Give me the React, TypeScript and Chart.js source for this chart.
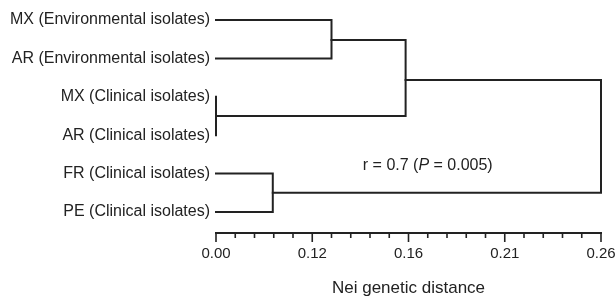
import React, { useEffect, useRef } from "react";
import { Chart, registerables } from "chart.js";

Chart.register(...registerables);

// Leaves (top to bottom) and their row positions
const leafLabels = [
  "MX (Environmental isolates)",
  "AR (Environmental isolates)",
  "MX (Clinical isolates)",
  "AR (Clinical isolates)",
  "FR (Clinical isolates)",
  "PE (Clinical isolates)",
];
const leafRows = [0, 1, 2, 3, 4, 5];

// Axis tick labels (evenly spaced major ticks as printed on the figure)
const tickLabels = ["0.00", "0.12", "0.16", "0.21", "0.26"];

// Clusters: children ("L#" leaf, "N#" cluster), join position on the distance axis, row
const clusterNames = ["N0", "N1", "N2", "N3", "N4"];
const clusterLeft = ["L0", "L2", "N0", "L4", "N2"];
const clusterRight = ["L1", "L3", "N1", "L5", "N3"];
const clusterHeight = [1.2, 0, 1.97, 0.59, 4.0];
const clusterRow = [0.52, 2.5, 1.56, 4.5, 3.0];

const annotationText = ["r = 0.7 (", "P", " = 0.005)"];
const annotationPos = { x: 2.2, y: 3.78 };

const INK = "#222222";
const FONT = "'Liberation Sans', Arial, Helvetica, sans-serif";

function nodeOf(id: string) {
  if (id[0] === "L") {
    const i = Number(id.slice(1));
    return { h: 0, row: leafRows[i] };
  }
  const i = clusterNames.indexOf(id);
  return { h: clusterHeight[i], row: clusterRow[i] };
}

export default function App() {
  const ref = useRef<HTMLCanvasElement>(null);

  useEffect(() => {
    document.body.style.margin = "0";
    const canvas = ref.current!;

    const datasets = clusterNames.map((_, i) => {
      const a = nodeOf(clusterLeft[i]);
      const b = nodeOf(clusterRight[i]);
      const h = clusterHeight[i];
      return {
        data: [
          { x: a.h, y: a.row },
          { x: h, y: a.row },
          { x: h, y: b.row },
          { x: b.h, y: b.row },
        ],
        borderColor: INK,
        borderWidth: 2,
        pointRadius: 0,
        fill: false,
        tension: 0,
        clip: false as any,
        borderCapStyle: "square" as const,
        borderJoinStyle: "miter" as const,
      };
    });

    const isMajor = (v: number) => Math.abs(v - Math.round(v)) < 1e-6;

    const axisPlugin = {
      id: "axisPlugin",
      afterDraw(chart: any) {
        const ctx = chart.ctx;
        const xs = chart.scales.x;
        const ys = chart.scales.y;
        const y0 = chart.chartArea.bottom;
        ctx.save();
        ctx.strokeStyle = INK;
        ctx.lineWidth = 2;
        ctx.beginPath();
        ctx.moveTo(xs.getPixelForValue(0) - 1, y0);
        ctx.lineTo(xs.getPixelForValue(4) + 1, y0);
        ctx.stroke();
        ctx.lineWidth = 1.6;
        xs.ticks.forEach((t: any) => {
          const px = xs.getPixelForValue(t.value);
          const len = isMajor(t.value) ? 9 : 5;
          ctx.beginPath();
          ctx.moveTo(px, y0 - 1);
          ctx.lineTo(px, y0 + len);
          ctx.stroke();
        });
        // annotation
        ctx.fillStyle = INK;
        ctx.textBaseline = "middle";
        const normal = `16px ${FONT}`;
        const italic = `italic 16px ${FONT}`;
        const fonts = [normal, italic, normal];
        let total = 0;
        const widths = annotationText.map((s, i) => {
          ctx.font = fonts[i];
          const w = ctx.measureText(s).width;
          total += w;
          return w;
        });
        let x = xs.getPixelForValue(annotationPos.x) - total / 2;
        const y = ys.getPixelForValue(annotationPos.y);
        annotationText.forEach((s, i) => {
          ctx.font = fonts[i];
          ctx.textAlign = "left";
          ctx.fillText(s, x, y);
          x += widths[i];
        });
        ctx.restore();
      },
    };

    const chart = new Chart(canvas, {
      type: "line",
      data: { datasets: datasets as any },
      options: {
        animation: false,
        responsive: true,
        maintainAspectRatio: false,
        layout: { padding: { top: 0, right: 15, left: 0, bottom: 0 } },
        plugins: {
          legend: { display: false },
          tooltip: { enabled: false },
        },
        scales: {
          x: {
            type: "linear",
            min: 0,
            max: 4,
            grid: { display: false, drawTicks: false },
            border: { display: false },
            ticks: {
              stepSize: 0.2,
              autoSkip: false,
              maxRotation: 0,
              padding: 12,
              color: INK,
              font: { size: 15, family: FONT },
              callback: (v: any) => (isMajor(Number(v)) ? tickLabels[Math.round(Number(v))] : ""),
            },
            title: {
              display: true,
              text: "Nei genetic distance",
              color: INK,
              font: { size: 17, family: FONT },
              padding: { top: 0, bottom: 0 },
            },
            afterFit: (s: any) => {
              s.height = 66;
              s.paddingLeft = 0;
              s.paddingRight = 0;
            },
          },
          y: {
            type: "linear",
            reverse: true,
            min: -0.521,
            max: 5.547,
            grid: { display: false, drawTicks: false },
            border: { display: false },
            ticks: {
              padding: 6,
              color: INK,
              font: { size: 16, family: FONT },
              callback: (v: any) => leafLabels[leafRows.indexOf(Number(v))] ?? "",
            },
            afterBuildTicks: (s: any) => {
              s.ticks = leafRows.map((v) => ({ value: v }));
            },
            afterFit: (s: any) => {
              s.width = 216;
              s.paddingTop = 0;
              s.paddingBottom = 0;
            },
          },
        },
      },
      plugins: [axisPlugin],
    });

    return () => chart.destroy();
  }, []);

  return (
    <div style={{ width: 616, height: 299, position: "relative", background: "#fff" }}>
      <canvas ref={ref} />
    </div>
  );
}
